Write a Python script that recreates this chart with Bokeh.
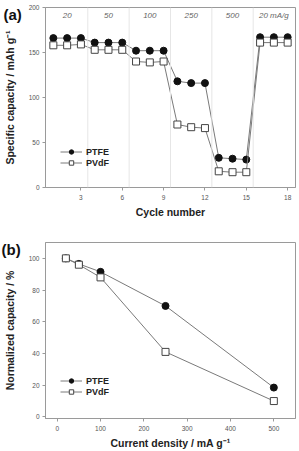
from bokeh.plotting import figure
from bokeh.layouts import column
from bokeh.models import Span, Title, Legend, LegendItem, FixedTicker, Range1d
from bokeh.core.properties import value
from bokeh.embed import file_html
from bokeh.resources import INLINE

# Rate capability: specific capacity per cycle
cycles = list(range(1, 19))
ptfe_capacity = [166, 166, 166, 161, 161, 161, 152, 152, 152,
                 118, 116, 116, 33, 32, 31, 167, 167, 167]
pvdf_capacity = [158, 158, 159, 153, 153, 153, 140, 139, 140,
                 70, 67, 66, 18, 17, 17, 161, 161, 161]
rate_labels = ["20", "50", "100", "250", "500", "20 mA/g"]
rate_centers = [2, 5, 8, 11, 14, 17]
rate_bounds = [3.5, 6.5, 9.5, 12.5, 15.5]

# Normalized capacity versus current density
current_density = [20, 50, 100, 250, 500]
ptfe_norm = [100, 96.5, 91.5, 70, 18.5]
pvdf_norm = [100, 96, 88, 41, 10]

FONT = "Liberation Sans"
AXIS_GREY = "#9a9a9a"
LINE_GREY = "#7a7a7a"


def style(p):
    p.background_fill_color = "white"
    p.border_fill_color = "white"
    p.outline_line_color = AXIS_GREY
    p.xgrid.visible = False
    p.ygrid.visible = False
    for ax in (p.xaxis[0], p.yaxis[0]):
        ax.axis_line_color = AXIS_GREY
        ax.major_tick_line_color = AXIS_GREY
        ax.major_tick_in = 0
        ax.major_tick_out = 3
        ax.minor_tick_line_color = None
        ax.major_label_text_font = FONT
        ax.major_label_text_font_size = "6.5px"
        ax.major_label_text_color = "#555555"
        ax.axis_label_text_font = FONT
        ax.axis_label_text_font_style = "bold"
        ax.axis_label_text_font_size = "10.5px"
        ax.axis_label_text_color = "#222222"
    p.xaxis[0].major_label_standoff = 4
    p.yaxis[0].major_label_standoff = 3


def series(p, x, y, fill, marker):
    ln = p.line(x, y, line_color=LINE_GREY, line_width=1)
    sc = p.scatter(x, y, marker=marker, size=7, fill_color=fill,
                   line_color="#444444" if fill == "white" else "#111111",
                   line_width=1)
    return ln, sc


def legend(p, items, y_off):
    lg = Legend(items=items, location=(15, y_off))
    lg.border_line_color = None
    lg.background_fill_alpha = 0
    lg.padding = 0
    lg.margin = 0
    lg.spacing = 0
    lg.glyph_width = 22
    lg.glyph_height = 11
    lg.label_height = 11
    lg.label_standoff = 4
    lg.label_text_font = FONT
    lg.label_text_font_style = "bold"
    lg.label_text_font_size = "9px"
    lg.label_text_color = "#222222"
    p.add_layout(lg, "center")


def panel_tag(p, text, offset):
    # panel letter pulled down and left into the margin beside the frame
    p.add_layout(Title(text=text, align="left", offset=offset, standoff=-30,
                       text_font=FONT, text_font_style="bold",
                       text_font_size="15px", text_color="#111111"), "above")


# (a) specific capacity vs cycle number
p1 = figure(width=299, height=220, output_backend="svg", toolbar_location=None,
            x_range=Range1d(0.43, 18.57), y_range=Range1d(0, 200),
            min_border_left=41, min_border_right=4, min_border_top=7,
            min_border_bottom=30)
style(p1)
p1.xaxis.ticker = FixedTicker(ticks=[3, 6, 9, 12, 15, 18])
p1.yaxis.ticker = FixedTicker(ticks=[0, 50, 100, 150, 200])
p1.xaxis.axis_label = "Cycle number"
p1.yaxis.axis_label = "Specific capacity / mAh g\u207b\u00b9"
p1.xaxis.axis_label_standoff = 3
p1.yaxis.axis_label_standoff = 10

for b in rate_bounds:
    p1.add_layout(Span(location=b, dimension="height", line_color="#e6e6e6",
                       line_width=1))

a_ptfe = series(p1, cycles, ptfe_capacity, "#111111", "circle")
a_pvdf = series(p1, cycles, pvdf_capacity, "white", "square")

p1.text(x=rate_centers, y=[191] * len(rate_centers), text=rate_labels,
        text_align="center", text_baseline="middle", text_font=value(FONT),
        text_font_style="italic", text_font_size="8px", text_color="#666666")

panel_tag(p1, "(a)", -42)
legend(p1, [LegendItem(label="PTFE", renderers=list(a_ptfe)),
            LegendItem(label="PVdF", renderers=list(a_pvdf))], 19)

# (b) normalized capacity vs current density
p2 = figure(width=299, height=231, output_backend="svg", toolbar_location=None,
            x_range=Range1d(-27, 550), y_range=Range1d(-1, 110),
            min_border_left=41, min_border_right=4, min_border_top=22,
            min_border_bottom=26)
style(p2)
p2.xaxis.ticker = FixedTicker(ticks=[0, 100, 200, 300, 400, 500])
p2.yaxis.ticker = FixedTicker(ticks=[0, 20, 40, 60, 80, 100])
p2.xaxis.axis_label = "Current density / mA g\u207b\u00b9"
p2.yaxis.axis_label = "Normalized capacity / %"
p2.xaxis.axis_label_standoff = 3
p2.yaxis.axis_label_standoff = 10

b_ptfe = series(p2, current_density, ptfe_norm, "#111111", "circle")
b_pvdf = series(p2, current_density, pvdf_norm, "white", "square")

panel_tag(p2, "(b)", -44)
legend(p2, [LegendItem(label="PTFE", renderers=list(b_ptfe)),
            LegendItem(label="PVdF", renderers=list(b_pvdf))], 21)

layout = column(p1, p2, spacing=0)
open("out.html", "w").write(file_html(layout, INLINE))
